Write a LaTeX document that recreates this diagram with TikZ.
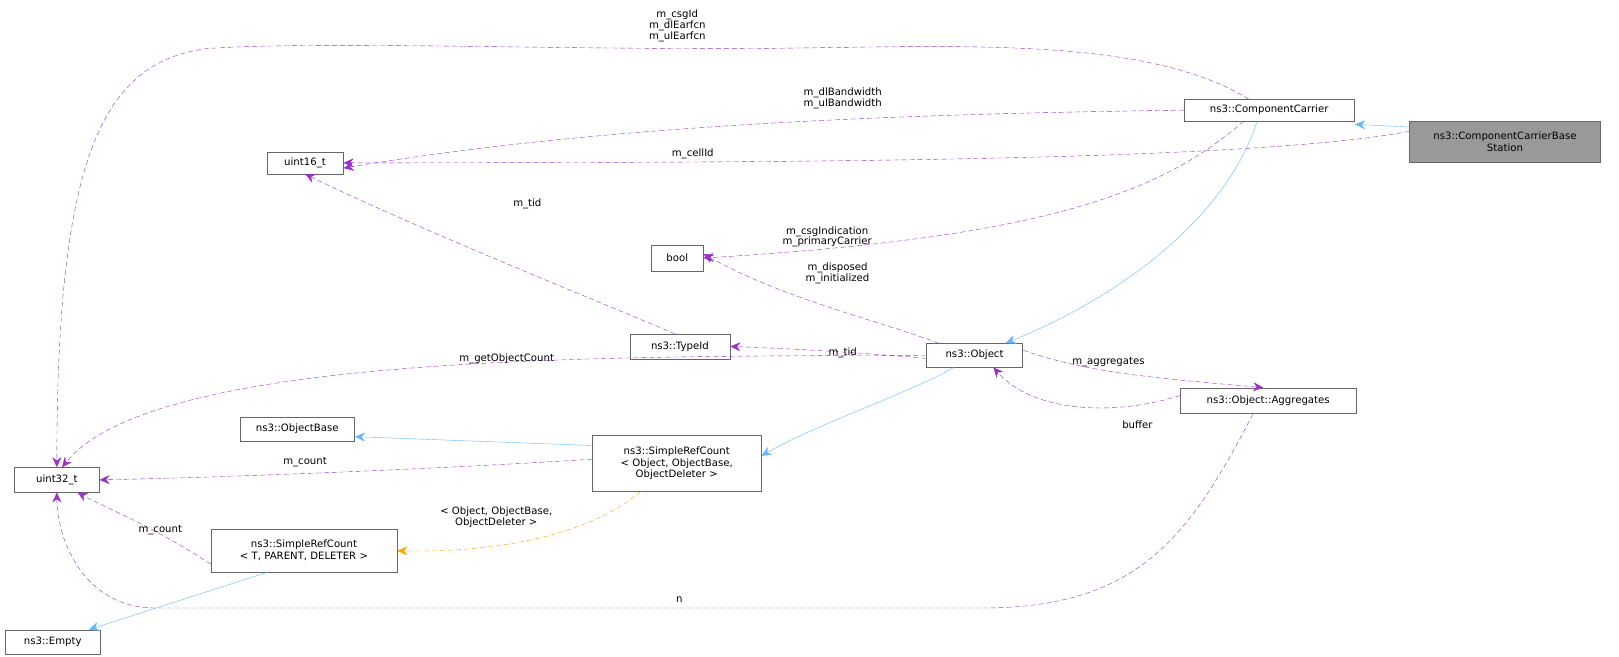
\documentclass[tikz,border=0pt]{standalone}
\usepackage{fontspec}
\setmainfont{DejaVu Sans}
\usetikzlibrary{arrows.meta,calc}
\definecolor{inh}{HTML}{63B8FF}
\definecolor{use}{HTML}{9A32CD}
\definecolor{tmpl}{HTML}{FFA500}
\tikzset{
  box/.style={draw=black!60,fill=white,rectangle,inner sep=0pt,align=center,font=\fontsize{9.8}{11.5}\selectfont},
  inhe/.style={draw=inh,-{Stealth[length=10pt,width=9pt,fill=inh]}},
  usee/.style={draw=use,dashed,dash pattern=on 5pt off 3pt,-{Stealth[length=10pt,width=9pt,fill=use]}},
  tmple/.style={draw=tmpl,dashed,dash pattern=on 5pt off 3pt,-{Stealth[length=10pt,width=9pt,fill=tmpl]}},
  lab/.style={font=\fontsize{9.8}{10.5}\selectfont,align=center,inner sep=1pt}
}
\begin{document}
\begin{tikzpicture}[x=1pt,y=-1pt,scale=1.034,every node/.append style={transform shape}]
\useasboundingbox (0,0) rectangle (1565.8,635.4);
\node[box,fill=black!40,minimum width=185pt,minimum height=40pt] (bs) at (1455.5,137) {ns3::ComponentCarrierBase\\Station};
\node[box,minimum width=165pt,minimum height=21pt] (cc) at (1227.5,106.5) {ns3::ComponentCarrier};
\node[box,minimum width=74pt,minimum height=21pt] (u16) at (295,157.5) {uint16\_t};
\node[box,minimum width=50pt,minimum height=25pt] (bool) at (655,249.5) {bool};
\node[box,minimum width=97pt,minimum height=24pt] (tid) at (657.5,335) {ns3::TypeId};
\node[box,minimum width=93pt,minimum height=23pt] (obj) at (942.5,343.5) {ns3::Object};
\node[box,minimum width=171pt,minimum height=25pt] (agg) at (1226.5,387.5) {ns3::Object::Aggregates};
\node[box,minimum width=111pt,minimum height=24pt] (ob) at (287.5,415) {ns3::ObjectBase};
\node[box,minimum width=163pt,minimum height=54pt] (src) at (654.5,448) {ns3::SimpleRefCount\\< Object, ObjectBase,\\ObjectDeleter >};
\node[box,minimum width=82pt,minimum height=24pt] (u32) at (55,464) {uint32\_t};
\node[box,minimum width=180pt,minimum height=41pt] (srct) at (294,532.5) {ns3::SimpleRefCount\\< T, PARENT, DELETER >};
\node[box,minimum width=92pt,minimum height=24pt] (empty) at (51,621) {ns3::Empty};

% inheritance
\draw[inhe] ([yshift=-6pt]bs.north west) -- ([yshift=-3pt]cc.south east);
\draw[inhe] ([xshift=-12pt]cc.south) .. controls (1190,200) and (1100,280) .. ([xshift=30pt]obj.north);
\draw[inhe] ([xshift=-20pt]obj.south) .. controls (880,380) and (790,410) .. ([yshift=-20pt]src.north east);
\draw[inhe] ([yshift=-10pt]src.north west) -- ([yshift=5pt]ob.south east);
\draw[inhe] ([xshift=-35pt]srct.south) -- ([xshift=35pt]empty.north);

% usage
\draw[usee] ([xshift=-20pt]cc.north) .. controls (1100,30) and (900,47) .. (700,47)
  .. controls (500,47) and (300,40) .. (200,47) .. controls (100,60) and (55,150) .. (u32.north);
\node[lab] at (655,25) {m\_csgId\\m\_dlEarfcn\\m\_ulEarfcn};
\draw[usee] (cc.west) .. controls (900,110) and (600,118) .. ([yshift=-5pt]u16.east);
\node[lab] at (815,95) {m\_dlBandwidth\\m\_ulBandwidth};
\draw[usee] ([yshift=10pt]bs.west) .. controls (1200,158) and (700,157) .. (u16.east);
\node[lab] at (670,149) {m\_cellId};
\draw[usee] ([xshift=-25pt]cc.south) .. controls (1120,190) and (1000,230) .. (bool.east);
\node[lab] at (800,229) {m\_csgIndication\\m\_primaryCarrier};
\draw[usee] ([xshift=-35pt]obj.north) .. controls (850,310) and (760,290) .. ([yshift=4pt]bool.east);
\node[lab] at (810,264) {m\_disposed\\m\_initialized};
\draw[usee] ([xshift=-5pt]tid.north) .. controls (600,300) and (400,220) .. (u16.south);
\node[lab] at (510,197) {m\_tid};
\draw[usee] ([yshift=-3pt]obj.west) .. controls (820,340) and (760,337) .. (tid.east);
\node[lab] at (815,341) {m\_tid};
\draw[usee] (obj.west) .. controls (600,345) and (150,340) .. ([xshift=5pt]u32.north);
\node[lab] at (490,347) {m\_getObjectCount};
\draw[usee] ([yshift=5pt]obj.east) .. controls (1050,360) and (1110,365) .. ([xshift=-5pt]agg.north);
\node[lab] at (1072,350) {m\_aggregates};
\draw[usee] ([yshift=5pt]agg.west) .. controls (1080,402) and (1000,400) .. ([xshift=18pt]obj.south);
\node[lab] at (1100,411) {buffer};
\draw[usee] ([xshift=-15pt]agg.south) .. controls (1150,520) and (1100,588) .. (950,588)
  -- (150,588) .. controls (80,588) and (55,520) .. (u32.south);
\node[lab] at (657,580) {n};
\draw[usee] ([yshift=4pt]src.west) .. controls (400,455) and (200,462) .. (u32.east);
\node[lab] at (295,447) {m\_count};
\draw[usee] ([yshift=-13pt]srct.west) .. controls (150,510) and (100,490) .. ([xshift=20pt]u32.south);
\node[lab] at (155,513) {m\_count};
\draw[tmple] ([xshift=-35pt]src.south) .. controls (580,510) and (500,535) .. (srct.east);
\node[lab] at (480,500) {< Object, ObjectBase,\\ObjectDeleter >};
\end{tikzpicture}
\end{document}
